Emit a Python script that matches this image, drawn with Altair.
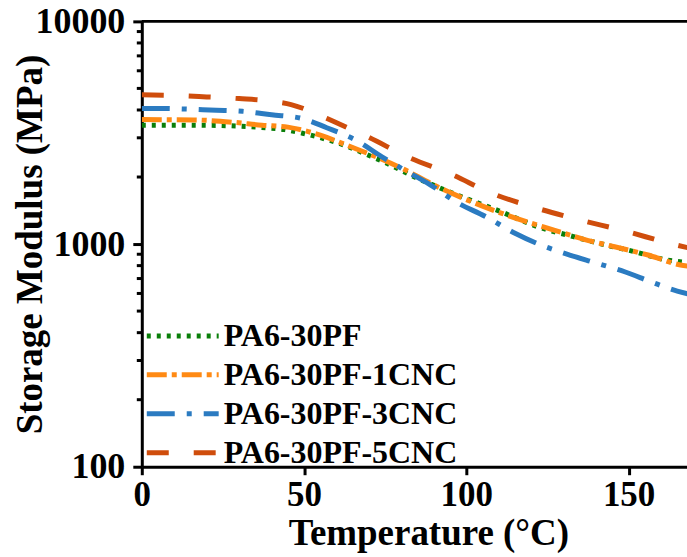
import altair as alt
import pandas as pd

names = ["PA6-30PF", "PA6-30PF-1CNC", "PA6-30PF-3CNC", "PA6-30PF-5CNC"]
colors = ["#0A7F0A", "#FF8A14", "#2B7BC1", "#CF4D0C"]
dashes = [[4, 6], [20, 5, 5, 5], [28, 12, 5, 12], [22, 25]]

temp_pf = [0, 10, 20, 30, 37, 44, 50, 56, 63, 69, 75, 83, 96, 110, 122, 133, 142, 152, 161, 168]
mod_pf = [3420, 3420, 3415, 3384, 3335, 3266, 3133, 2977, 2760, 2535, 2324, 2036, 1687, 1410, 1196, 1080, 998, 923, 853, 825]

temp_1 = [0, 16, 28, 37, 45, 55, 64, 71, 80, 90, 105, 118, 127, 136, 146, 156, 166, 170]
mod_1 = [3623, 3610, 3524, 3418, 3350, 3083, 2750, 2506, 2193, 1841, 1480, 1267, 1155, 1053, 970, 893, 805, 790]

temp_3 = [0, 4, 23, 31, 40, 49, 57, 66, 74, 81, 89, 97, 106, 115, 123, 131, 140, 149, 157, 165, 170]
mod_3 = [4065, 4065, 3990, 3947, 3807, 3675, 3330, 2925, 2466, 2147, 1841, 1542, 1327, 1119, 990, 902, 822, 749, 676, 615, 590]

temp_5 = [0, 10, 20, 30, 40, 46, 52, 59, 65, 70, 82, 96, 107, 121, 134, 149, 163, 170]
mod_5 = [4680, 4650, 4580, 4500, 4380, 4230, 3950, 3560, 3250, 3010, 2460, 2040, 1710, 1460, 1295, 1143, 1004, 950]

x_ticks = [0, 50, 100, 150]
y_ticks = [100, 1000, 10000]
y_minor = [200, 300, 400, 500, 600, 700, 800, 900,
           2000, 3000, 4000, 5000, 6000, 7000, 8000, 9000]

rows = []
for name, ts, ms in zip(names, [temp_pf, temp_1, temp_3, temp_5], [mod_pf, mod_1, mod_3, mod_5]):
    for t, m in zip(ts, ms):
        rows.append({"Sample": name, "Temperature": t, "Modulus": m})
df = pd.DataFrame(rows)
df_minor = pd.DataFrame({"Modulus": y_minor})
df_border = pd.DataFrame({"k": [0]})

FONT = "Liberation Serif"

x_scale = alt.Scale(domain=[0, 168], nice=False, zero=False)
y_scale = alt.Scale(type="log", domain=[100, 10000], nice=False)

y_axis = alt.Axis(values=y_ticks, format="d", tickSize=9, tickWidth=3, domainWidth=3,
                  domainColor="black", tickColor="black", labelFont=FONT, labelFontSize=36,
                  labelFontWeight="bold", labelColor="black", labelPadding=8, grid=False,
                  title="Storage Modulus (MPa)", titleFont=FONT, titleFontSize=37,
                  titleFontWeight="bold", titleColor="black", titleX=-100, titleY=223,
                  titleAngle=270, titleAlign="center", titleBaseline="alphabetic")
x_axis = alt.Axis(values=x_ticks, format="d", tickSize=8, tickWidth=3, domainWidth=3,
                  domainColor="black", tickColor="black", labelFont=FONT, labelFontSize=35,
                  labelFontWeight="bold", labelColor="black", labelPadding=3, grid=False,
                  labelFlush=False,
                  title="Temperature (°C)", titleFont=FONT, titleFontSize=37,
                  titleFontWeight="bold", titleColor="black", titleX=287, titleY=78,
                  titleAlign="center", titleBaseline="alphabetic")

legend = alt.Legend(orient="none", legendX=25, legendY=299, title=None,
                    symbolType="M-3,0H3", symbolSize=576, symbolStrokeWidth=5,
                    labelFont=FONT, labelFontSize=32, labelFontWeight="bold",
                    labelColor="black", labelLimit=400, rowPadding=7, labelOffset=25,
                    padding=0)

lines = alt.Chart(df).mark_line(strokeWidth=5, clip=True, interpolate="monotone").encode(
    x=alt.X("Temperature:Q", scale=x_scale, axis=x_axis),
    y=alt.Y("Modulus:Q", scale=y_scale, axis=y_axis),
    color=alt.Color("Sample:N", scale=alt.Scale(domain=names, range=colors), legend=legend),
    strokeDash=alt.StrokeDash("Sample:N", scale=alt.Scale(domain=names, range=dashes), legend=legend),
    detail="Sample:N",
)

minor = alt.Chart(df_minor).mark_rule(color="black", strokeWidth=3).encode(
    y=alt.Y("Modulus:Q", scale=y_scale, axis=y_axis),
    x=alt.value(-5),
    x2=alt.value(0),
)

border = alt.Chart(df_border).mark_rule(color="black", strokeWidth=3).encode(
    x=alt.value(0),
    x2=alt.value(600),
    y=alt.value(0),
)

chart = alt.layer(lines, minor, border).properties(
    width=546, height=446,
    autosize=alt.AutoSizeParams(type="none"),
    padding={"left": 142, "top": 21, "right": 0, "bottom": 90},
).configure_view(stroke="transparent")

chart.save("out.html", embed_options={"renderer": "svg", "actions": False})
